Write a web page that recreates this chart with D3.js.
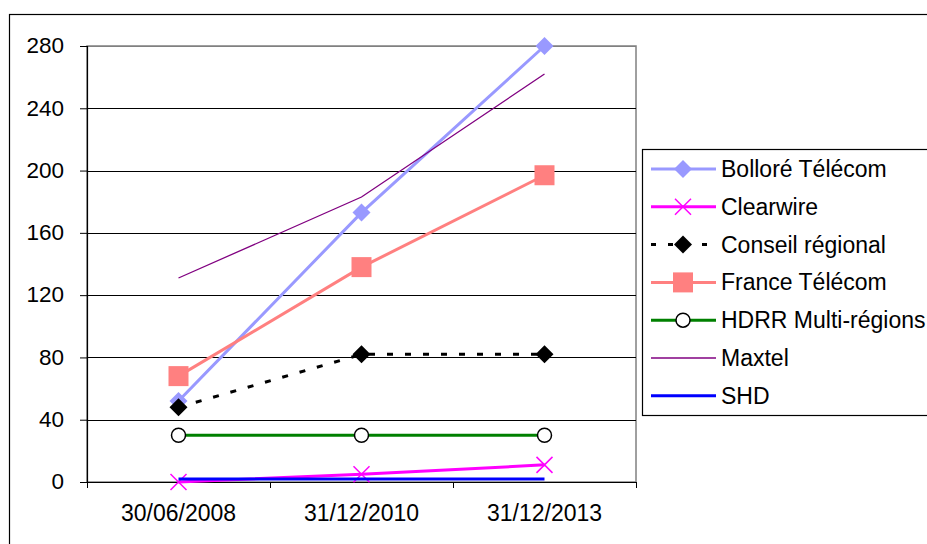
<!DOCTYPE html>
<html><head><meta charset="utf-8">
<script src="https://cdn.jsdelivr.net/npm/d3@7"></script>
<style>body{margin:0;background:#fff}svg{display:block;font-family:"Liberation Sans",Arial,sans-serif}</style>
</head><body>
<svg id="c" width="927" height="544"></svg>
<script>
const categories = ["30/06/2008", "31/12/2010", "31/12/2013"];
const yTicks = [0, 40, 80, 120, 160, 200, 240, 280];
const seriesNames = ["Bolloré Télécom", "Clearwire", "Conseil régional", "France Télécom", "HDRR Multi-régions", "Maxtel", "SHD"];
const bollore = [52, 173, 280];
const clearwire = [0, 5, 11];
const conseil = [48, 82, 82];
const france = [68, 138, 197];
const hdrr = [30, 30, 30];
const maxtel = [131, 183, 262];
const shd = [2, 2, 2];

const styles = [
  {color:"#9999FF", w:3, marker:"diamond"},
  {color:"#FF00FF", w:3, marker:"cross"},
  {color:"#000000", w:3, marker:"diamond", dash:"6,12"},
  {color:"#FF8080", w:3, marker:"square"},
  {color:"#008000", w:3, marker:"circle"},
  {color:"#800080", w:1.3, marker:null},
  {color:"#0000FF", w:3, marker:null}
];
const values = [bollore, clearwire, conseil, france, hdrr, maxtel, shd];

const svg = d3.select("#c");
const L = 87, R = 636, T = 46, B = 482;
const FONT = "Liberation Sans, Arial, sans-serif";
const x = d3.scaleBand().domain(categories).range([L, R]);
const y = d3.scaleLinear().domain([0, 280]).range([B, T]);

svg.append("rect").attr("x",9.5).attr("y",14.5).attr("width",940).attr("height",560)
  .attr("fill","none").attr("stroke","#000").attr("stroke-width",1.2);

svg.append("rect").attr("x",L).attr("y",T).attr("width",R-L).attr("height",B-T)
  .attr("fill","none").attr("stroke","#808080").attr("stroke-width",1.5);

svg.append("g").selectAll("line").data(yTicks.filter(d=>d>0)).join("line")
  .attr("x1",L).attr("x2",R).attr("y1",d=>Math.round(y(d))+0.5).attr("y2",d=>Math.round(y(d))+0.5)
  .attr("stroke",d=>d===280?"#808080":"#000").attr("stroke-width",1);

const yAx = svg.append("g").attr("transform",`translate(${L},0)`)
  .call(d3.axisLeft(y).tickValues(yTicks).tickSize(7).tickPadding(16));
yAx.select(".domain").attr("stroke","#000").attr("stroke-width",1.2).attr("d",`M0.5,${T}V${B}`);
yAx.selectAll("text").attr("font-size",22.5).attr("fill","#000").attr("font-family",FONT).attr("dy","0.3em");
yAx.selectAll(".tick line").attr("stroke","#000");

const xAx = svg.append("g").attr("transform",`translate(0,${B})`)
  .call(d3.axisBottom(x).tickSize(0).tickPadding(23));
xAx.select(".domain").remove();
xAx.selectAll("text").attr("font-size",23).attr("fill","#000").attr("font-family",FONT);
svg.append("line").attr("x1",L).attr("x2",R).attr("y1",B+0.5).attr("y2",B+0.5).attr("stroke","#000").attr("stroke-width",1.2);
const bounds = categories.map(c=>x(c)).concat([R]);
svg.append("g").selectAll("line").data(bounds).join("line")
  .attr("x1",d=>d+0.5).attr("x2",d=>d+0.5).attr("y1",B).attr("y2",B+6).attr("stroke","#000");

const cx = c => x(c) + x.bandwidth()/2;

function drawMarker(g, type, px, py, color) {
  if (!type) return;
  if (type === "diamond") {
    g.append("path").attr("d",`M${px},${py-9}L${px+9},${py}L${px},${py+9}L${px-9},${py}Z`).attr("fill",color);
  } else if (type === "cross") {
    g.append("path").attr("d",`M${px-8},${py-8}L${px+8},${py+8}M${px-8},${py+8}L${px+8},${py-8}`).attr("stroke",color).attr("stroke-width",1.5);
  } else if (type === "square") {
    g.append("rect").attr("x",px-10).attr("y",py-10).attr("width",20).attr("height",20).attr("fill",color);
  } else if (type === "circle") {
    g.append("circle").attr("cx",px).attr("cy",py).attr("r",7).attr("fill","#fff").attr("stroke","#000").attr("stroke-width",1.5);
  }
}

const line = d3.line().x((d,i)=>cx(categories[i])).y(d=>y(d));
values.forEach((vals,i) => {
  const s = styles[i], g = svg.append("g");
  g.append("path").attr("d", line(vals)).attr("fill","none").attr("stroke",s.color)
    .attr("stroke-width",s.w).attr("stroke-dasharray",s.dash||null);
  vals.forEach((v,j)=>drawMarker(g, s.marker, cx(categories[j]), y(v), s.color));
});

const lg = svg.append("g");
lg.append("rect").attr("x",642.5).attr("y",149.5).attr("width",300).attr("height",266)
  .attr("fill","#fff").attr("stroke","#000").attr("stroke-width",1.2);
seriesNames.forEach((name,i)=>{
  const ly = 169 + i*37.8, s = styles[i];
  const gi = lg.append("g");
  gi.append("line").attr("x1",651).attr("x2",716).attr("y1",ly).attr("y2",ly)
    .attr("stroke",s.color).attr("stroke-width",s.w).attr("stroke-dasharray",s.dash?"5,12":null);
  drawMarker(gi, s.marker, 683, ly, s.color);
  gi.append("text").attr("x",721).attr("y",ly+8).attr("font-size",23).attr("fill","#000")
    .attr("font-family",FONT).text(name);
});
</script>
</body></html>
